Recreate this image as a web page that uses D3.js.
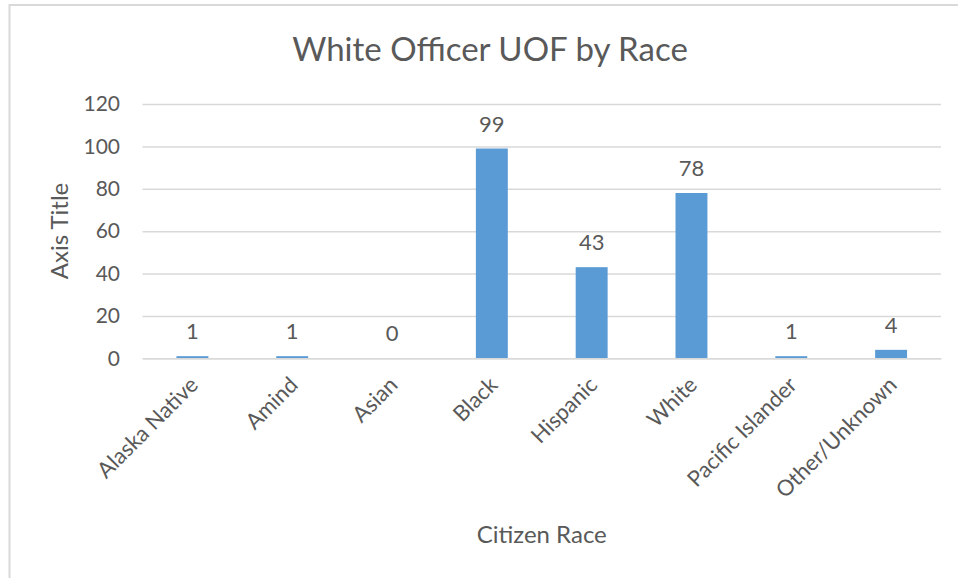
<!DOCTYPE html>
<html>
<head>
<meta charset="utf-8">
<script src="https://cdn.jsdelivr.net/npm/d3@7"></script>
<style>
  html, body { margin: 0; padding: 0; background: #fff; }
  svg { display: block; }
  text { font-family: Lato, "Open Sans", sans-serif; fill: #595959; }
</style>
</head>
<body>
<svg id="chart" width="958" height="578"></svg>
<script>
const categories = ["Alaska Native", "Amind", "Asian", "Black", "Hispanic", "White", "Pacific Islander", "Other/Unknown"];
const values = [1, 1, 0, 99, 43, 78, 1, 4];
const yTicks = [0, 20, 40, 60, 80, 100, 120];
const chartTitle = "White Officer UOF by Race";
const xTitle = "Citizen Race";
const yTitle = "Axis Title";

const svg = d3.select("#chart");
const W = 958, H = 578;
const m = { left: 142.5, right: 941, top: 104, bottom: 358.3 };

// chart border
svg.append("rect")
  .attr("x", 9.5).attr("y", 5).attr("width", W + 20).attr("height", H + 20)
  .attr("fill", "none").attr("stroke", "#d9d9d9").attr("stroke-width", 2);

const x = d3.scaleBand().domain(categories).range([m.left, m.right])
  .paddingInner(0.68).paddingOuter(0.34);
const y = d3.scaleLinear().domain([0, 120]).range([m.bottom, m.top]);

// gridlines
const grid = svg.append("g")
  .attr("transform", `translate(${m.left},0)`)
  .call(d3.axisLeft(y).tickValues(yTicks).tickSize(-(m.right - m.left)).tickFormat(""));
grid.select(".domain").remove();
grid.selectAll("line").attr("stroke", "#d9d9d9").attr("stroke-width", 1.5);

// y tick labels
const yAxis = svg.append("g")
  .attr("transform", `translate(120,0)`)
  .call(d3.axisLeft(y).tickValues(yTicks).tickSize(0).tickPadding(0));
yAxis.select(".domain").remove();
yAxis.selectAll("text").style("font-size", "21px").attr("fill", "#595959").attr("font-family", "Lato");

// bars
svg.append("g").selectAll("rect").data(values).join("rect")
  .attr("x", (d, i) => x(categories[i]))
  .attr("y", d => y(d))
  .attr("width", x.bandwidth())
  .attr("height", d => Math.max(0, y(0) - y(d)))
  .attr("fill", "#5b9bd5");

// x axis line
const xAxis = svg.append("g")
  .attr("transform", `translate(0,${m.bottom})`)
  .call(d3.axisBottom(x).tickSize(0).tickFormat(""));
xAxis.select(".domain").attr("stroke", "#d9d9d9").attr("stroke-width", 1.5);

// category labels
svg.append("g").selectAll("text").data(categories).join("text")
  .attr("transform", d => `translate(${x(d) + x.bandwidth() / 2 + 7},${m.bottom + 28}) rotate(-45)`)
  .attr("text-anchor", "end")
  .style("font-size", "22px")
  .text(d => d);

// data labels
svg.append("g").selectAll("text").data(values).join("text")
  .attr("x", (d, i) => x(categories[i]) + x.bandwidth() / 2)
  .attr("y", d => y(d) - 17)
  .attr("text-anchor", "middle")
  .style("font-size", "22px")
  .text(d => d);

// title
svg.append("text")
  .attr("x", 490).attr("y", 61)
  .attr("text-anchor", "middle")
  .style("font-size", "33px")
  .text(chartTitle);

// x axis title
svg.append("text")
  .attr("x", (m.left + m.right) / 2).attr("y", 543)
  .attr("text-anchor", "middle")
  .style("font-size", "24px")
  .text(xTitle);

// y axis title
svg.append("text")
  .attr("transform", `translate(68,231) rotate(-90)`)
  .attr("text-anchor", "middle")
  .style("font-size", "24px")
  .text(yTitle);
</script>
</body>
</html>
